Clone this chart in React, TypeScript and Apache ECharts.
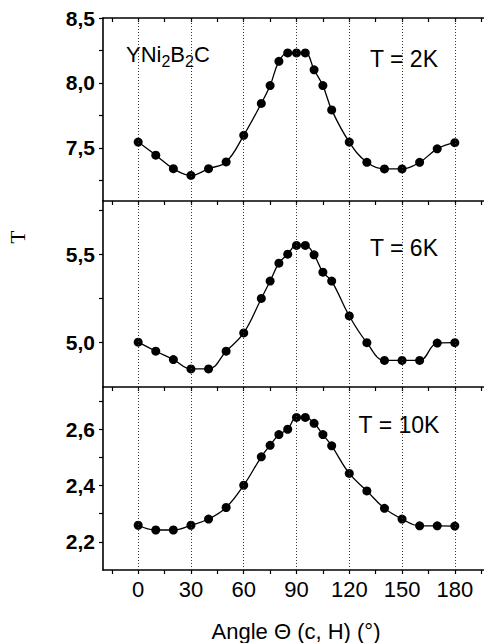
import React, { useEffect, useRef } from "react";
import * as echarts from "echarts";

const angles = [0, 10, 20, 30, 40, 50, 60, 70, 75, 80, 85, 90, 95, 100, 105, 110, 120, 130, 140, 150, 160, 170, 180];
const t2K = [7.544, 7.443, 7.339, 7.287, 7.339, 7.391, 7.596, 7.842, 7.979, 8.166, 8.231, 8.231, 8.231, 8.101, 7.979, 7.792, 7.544, 7.388, 7.337, 7.337, 7.388, 7.492, 7.539];
const t6K = [5.003, 4.952, 4.905, 4.852, 4.852, 4.952, 5.055, 5.25, 5.348, 5.449, 5.5, 5.549, 5.549, 5.496, 5.398, 5.348, 5.151, 5.0, 4.9, 4.9, 4.9, 4.998, 5.0];
const t10K = [2.259, 2.242, 2.242, 2.259, 2.281, 2.322, 2.401, 2.502, 2.543, 2.581, 2.6, 2.642, 2.642, 2.621, 2.581, 2.541, 2.443, 2.381, 2.319, 2.281, 2.257, 2.257, 2.256];

const xLabelValues = [0, 30, 60, 90, 120, 150, 180];
const xTickValues = [-15, 0, 15, 30, 45, 60, 75, 90, 105, 120, 135, 150, 165, 180, 195];
const xRange = [-20, 200];

const y2KRange = [7.09, 8.5];
const y2KLabels = [7.5, 8.0, 8.5];
const y2KTicks = [7.25, 7.5, 7.75, 8.0, 8.25, 8.5];
const y6KRange = [4.75, 5.8];
const y6KLabels = [5.0, 5.5];
const y6KTicks = [5.0, 5.25, 5.5, 5.75];
const y10KRange = [2.1, 2.75];
const y10KLabels = [2.2, 2.4, 2.6];
const y10KTicks = [2.2, 2.3, 2.4, 2.5, 2.6, 2.7];

const panelTitles = ["T = 2K", "T = 6K", "T = 10K"];
const xAxisTitle = "Angle \u0398 (c, H) (\u00B0)";
const yAxisTitle = "T";

const FONT = "'Liberation Sans', Arial, Helvetica, sans-serif";

export default function App() {
  const ref = useRef<HTMLDivElement>(null);

  useEffect(() => {
    if (!ref.current) return;
    const chart = echarts.init(ref.current, null, { renderer: "svg" });

    const panels = [
      { values: t2K, range: y2KRange, labels: y2KLabels, ticks: y2KTicks },
      { values: t6K, range: y6KRange, labels: y6KLabels, ticks: y6KTicks },
      { values: t10K, range: y10KRange, labels: y10KLabels, ticks: y10KTicks },
    ];
    const tops = [18, 201, 387];
    const heights = [183, 186, 183];

    const grids = panels.map((_, i) => ({ left: 103, top: tops[i], width: 387, height: heights[i] }));

    const axisLineStyle = { color: "#000", width: 1.6 };

    const xAxes: any[] = panels.map((_, i) => ({
      type: "value",
      gridIndex: i,
      min: xRange[0],
      max: xRange[1],
      position: "bottom",
      axisLine: { show: true, onZero: false, lineStyle: axisLineStyle },
      axisTick: { show: true, customValues: xTickValues, length: 4, inside: false, lineStyle: { color: "#000", width: 1.2 } },
      axisLabel: {
        show: i === 2,
        customValues: xLabelValues,
        color: "#000",
        fontFamily: FONT,
        fontSize: 22,
        margin: 8,
      },
      splitLine: { show: false },
    }));
    xAxes.push({
      type: "value",
      gridIndex: 0,
      min: xRange[0],
      max: xRange[1],
      position: "top",
      axisLine: { show: true, onZero: false, lineStyle: axisLineStyle },
      axisTick: { show: true, customValues: xTickValues, length: 4, inside: true, lineStyle: { color: "#000", width: 1.2 } },
      axisLabel: { show: false },
      splitLine: { show: false },
    });

    const yAxes = panels.map((p, i) => ({
      type: "value",
      gridIndex: i,
      min: p.range[0],
      max: p.range[1],
      axisLine: { show: true, onZero: false, lineStyle: axisLineStyle },
      axisTick: { show: true, customValues: p.ticks, length: 4, inside: false, lineStyle: { color: "#000", width: 1.2 } },
      axisLabel: {
        show: true,
        customValues: p.labels,
        formatter: (v: number) => v.toFixed(1).replace(".", ","),
        color: "#000",
        fontFamily: FONT,
        fontWeight: "bold",
        fontSize: 21,
        margin: 8,
      },
      splitLine: { show: false },
    }));

    const series = panels.map((p, i) => ({
      type: "line",
      xAxisIndex: i,
      yAxisIndex: i,
      data: angles.map((a, k) => [a, p.values[k]]),
      smooth: 0.4,
      symbol: "circle",
      symbolSize: 9,
      itemStyle: { color: "#000" },
      lineStyle: { color: "#000", width: 1.3 },
      markLine: {
        silent: true,
        symbol: ["none", "none"],
        label: { show: false },
        lineStyle: { color: "#333", width: 1, type: [1, 2] },
        data: xLabelValues.map((v) => ({ xAxis: v })),
      },
    }));

    const titleY = [59, 248, 425];
    const titleX = [404, 404, 399];

    const graphic: any[] = panelTitles.map((t, i) => ({
      type: "text",
      x: titleX[i],
      y: titleY[i],
      style: {
        text: t,
        fontFamily: FONT,
        fontSize: 23,
        fill: "#000",
        textAlign: "center",
        textVerticalAlign: "middle",
      },
    }));
    graphic.push({
      type: "text",
      x: 126,
      y: 54,
      style: {
        text: "{a|YNi}{s|2}{a|B}{s|2}{a|C}",
        textVerticalAlign: "middle",
        rich: {
          a: { fontFamily: FONT, fontSize: 22, fill: "#000", color: "#000" },
          s: { fontFamily: FONT, fontSize: 16, fill: "#000", color: "#000", padding: [15, 0, 0, 0] },
        },
      },
    });
    graphic.push({
      type: "text",
      x: 296,
      y: 631,
      style: {
        text: xAxisTitle,
        fontFamily: FONT,
        fontSize: 22,
        fill: "#000",
        textAlign: "center",
        textVerticalAlign: "middle",
      },
    });
    graphic.push({
      type: "text",
      x: 18,
      y: 237,
      rotation: Math.PI / 2,
      style: {
        text: yAxisTitle,
        fontFamily: "'Liberation Serif', 'Times New Roman', serif",
        fontSize: 21,
        fill: "#000",
        textAlign: "center",
        textVerticalAlign: "middle",
      },
    });

    chart.setOption({
      animation: false,
      backgroundColor: "#fff",
      grid: grids,
      xAxis: xAxes,
      yAxis: yAxes,
      series,
      graphic,
    });

    return () => chart.dispose();
  }, []);

  return (
    <div style={{ position: "fixed", left: 0, top: 0, width: 484, height: 643, overflow: "hidden", background: "#fff" }}>
      <div ref={ref} style={{ width: 500, height: 643 }} />
    </div>
  );
}
